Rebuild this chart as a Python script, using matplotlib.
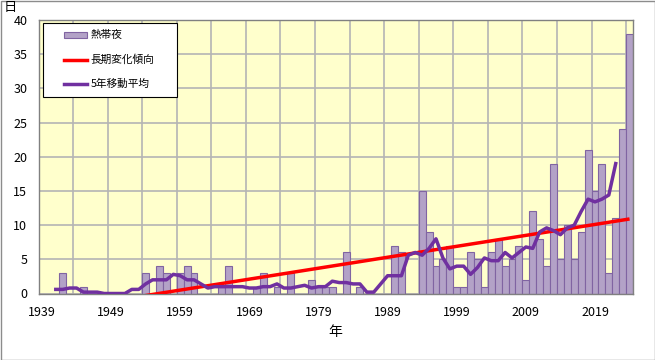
import matplotlib
matplotlib.use("Agg")
import matplotlib.pyplot as plt
from matplotlib.patches import Rectangle
from matplotlib.lines import Line2D

plt.rcParams['font.family'] = ['Noto Sans CJK JP', 'DejaVu Sans']

# ---- data ----
years = list(range(1939, 2025))
nights = [0,
          0, 0, 3, 0, 0, 1, 0, 0, 0, 0,        # 1940s
          0, 0, 0, 0, 3, 0, 4, 3, 0, 3,        # 1950s
          4, 3, 0, 0, 0, 1, 4, 0, 0, 0,        # 1960s
          1, 3, 0, 1, 0, 3, 0, 0, 2, 1,        # 1970s
          1, 1, 0, 6, 0, 1, 0, 0, 0, 0,        # 1980s
          7, 6, 0, 0, 15, 9, 4, 5, 7, 1,       # 1990s
          1, 6, 5, 1, 6, 8, 4, 5, 7, 2,        # 2000s
          12, 8, 4, 19, 5, 10, 5, 9, 21, 15,   # 2010s
          19, 3, 11, 24, 38]                   # 2020s

ma_years = list(range(1941, 2023))
ma_values = [0.6, 0.6, 0.8, 0.8, 0.2, 0.2, 0.2, 0.0, 0.0,
             0.0, 0.0, 0.6, 0.6, 1.4, 2.0, 2.0, 2.0, 2.8, 2.6,
             2.0, 2.0, 1.4, 0.8, 1.0, 1.0, 1.0, 1.0, 1.0, 0.8,
             0.8, 1.0, 1.0, 1.4, 0.8, 0.8, 1.0, 1.2, 0.8, 1.0,
             1.0, 1.8, 1.6, 1.6, 1.4, 1.4, 0.2, 0.2, 1.4, 2.6,
             2.6, 2.6, 5.6, 6.0, 5.6, 6.6, 8.0, 5.2, 3.6, 4.0,
             4.0, 2.8, 3.8, 5.2, 4.8, 4.8, 6.0, 5.2, 6.0, 6.8,
             6.6, 9.0, 9.6, 9.2, 8.6, 9.6, 10.0, 12.0, 13.8, 13.4,
             13.8, 14.4, 19.0]

trend_years = [1939, 2024]
trend_values = [-2.7, 10.9]

xtick_years = [1939, 1949, 1959, 1969, 1979, 1989, 1999, 2009, 2019]
yticks = [0, 5, 10, 15, 20, 25, 30, 35, 40]

labels = ['熱帯夜', '長期変化傾向', '5年移動平均']

# ---- style ----
W, H = 655, 360
bar_face = '#B3A2C7'
bar_edge = '#8064A2'
ma_color = '#7030A0'
trend_color = '#FF0000'
grid_color = '#B4B4B4'

fig = plt.figure(figsize=(W / 100, H / 100), dpi=100)
fig.patch.set_facecolor('white')

left_px, right_px, top_px, bottom_px = 38.5, 633.0, 20.0, 293.5
ax = fig.add_axes([left_px / W, 1 - bottom_px / H,
                   (right_px - left_px) / W, (bottom_px - top_px) / H])
ax.set_facecolor('#FFFFCC')

ax.bar(years, nights, width=1.0, color=bar_face, edgecolor=bar_edge,
       linewidth=0.8, zorder=2)
ax.plot(trend_years, trend_values, color=trend_color, linewidth=2.5,
        zorder=3, solid_capstyle='butt')
ax.plot(ma_years, ma_values, color=ma_color, linewidth=2.5, zorder=4)

ax.set_xlim(1938.5, 2024.5)
ax.set_ylim(0, 40)

ax.set_yticks(yticks)
ax.set_yticklabels([str(v) for v in yticks], fontsize=9)
ax.set_xticks(xtick_years)
ax.set_xticklabels([str(v) for v in xtick_years], fontsize=9)
ax.set_xticks([1943.5 + 5 * k for k in range(17)], minor=True)
ax.tick_params(axis='x', which='major', length=0, pad=9)
ax.tick_params(axis='x', which='minor', length=0)
ax.tick_params(axis='y', length=0, pad=8)

ax.grid(True, axis='y', which='major', color=grid_color, linewidth=1.2, zorder=1)
ax.grid(True, axis='x', which='minor', color=grid_color, linewidth=1.2, zorder=1)
ax.set_axisbelow(True)

for s in ax.spines.values():
    s.set_color('#808080')
    s.set_linewidth(1.0)

ax.set_xlabel('年', fontsize=10, labelpad=4)

fig.text(10 / W, 1 - 8 / H, '日', fontsize=9.5, ha='center', va='center')

# ---- legend (Excel-style box) ----
def fx(px):
    return px / W

def fy(py):
    return 1 - py / H

tf = fig.transFigure
fig.patches.append(Rectangle((fx(43), fy(97)), fx(177) - fx(43), fy(23) - fy(97),
                             transform=tf, facecolor='white', edgecolor='black',
                             linewidth=0.8, zorder=10))
fig.patches.append(Rectangle((fx(64), fy(38.3)), fx(87.3) - fx(64), fy(32.3) - fy(38.3),
                             transform=tf, facecolor=bar_face, edgecolor=bar_edge,
                             linewidth=0.8, zorder=11))
fig.lines.append(Line2D([fx(64), fx(87.3)], [fy(60), fy(60)], transform=tf,
                        color=trend_color, linewidth=2.5, zorder=11))
fig.lines.append(Line2D([fx(64), fx(87.3)], [fy(84), fy(84)], transform=tf,
                        color=ma_color, linewidth=2.5, zorder=11))
for lab, py in zip(labels, [35, 60, 84]):
    fig.text(fx(90.5), fy(py), lab, fontsize=7.7, ha='left', va='center', zorder=12)

# outer chart border
fig.patches.append(Rectangle((0.5 / W, 0.5 / H), 1 - 1.0 / W, 1 - 1.0 / H,
                             transform=tf, fill=False, edgecolor='#8C8C8C',
                             linewidth=1.0))

fig.savefig('out.png', dpi=100)
